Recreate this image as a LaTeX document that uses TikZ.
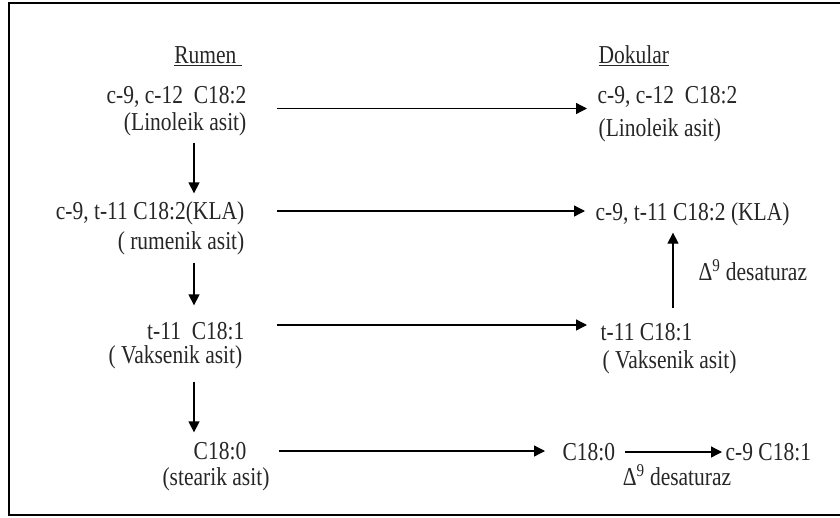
\documentclass[tikz,border=0pt]{standalone}
\usepackage{fontspec}
\setmainfont{Liberation Serif}
\usetikzlibrary{arrows.meta,calc}

\newcommand\tall[1]{\scalebox{1}[1.2]{#1}}

\begin{document}
\begin{tikzpicture}[x=1pt,y=-1pt,>={Triangle[length=11pt,width=11pt]},
                line width=1.3pt,
                lbl/.style={inner sep=0pt,text height=22pt,text depth=5pt,
                  text=black!85,font=\fontsize{21.5}{26}\selectfont}]
  \useasboundingbox (0,0) rectangle (840,517);
  \draw[line width=2.2pt] (845,3) -- (9,3) -- (9,515) -- (845,515);

  \coordinate (lx) at (194,0);
  \coordinate (rx) at (673,0);

  % Rumen side
  \node[lbl] (rumen) at (208,55) {\tall{\underline{Rumen\ }}};
  \node[lbl,anchor=east] (l1a) at (247,95) {\tall{c-9, c-12\ \ C18:2}};
  \node[lbl,anchor=east] (l1b) at (247,122) {\tall{(Linoleik asit)}};
  \node[lbl,anchor=east] (l2a) at (245,211) {\tall{c-9, t-11 C18:2(KLA)}};
  \node[lbl,anchor=east] (l2b) at (245,241) {\tall{( rumenik asit)}};
  \node[lbl,anchor=east] (l3a) at (245,331) {\tall{t-11\ \ C18:1}};
  \node[lbl,anchor=east] (l3b) at (243,355) {\tall{( Vaksenik asit)}};
  \node[lbl] (l4a) at (220,451) {\tall{C18:0}};
  \node[lbl] (l4b) at (216,477) {\tall{(stearik asit)}};

  % Dokular side
  \node[lbl,anchor=west] (dokular) at (598,55) {\tall{\underline{Dokular}}};
  \node[lbl,anchor=west] (r1a) at (597,95) {\tall{c-9, c-12\ \ C18:2}};
  \node[lbl,anchor=west] (r1b) at (598,128) {\tall{(Linoleik asit)}};
  \node[lbl,anchor=west] (r2) at (595,212) {\tall{c-9, t-11 C18:2 (KLA)}};
  \node[lbl,anchor=west] (r3a) at (600,332) {\tall{t-11 C18:1}};
  \node[lbl,anchor=west] (r3b) at (602,360) {\tall{( Vaksenik asit)}};
  \node[lbl,anchor=west] (r4a) at (562,452) {\tall{C18:0}};
  \node[lbl,anchor=west] (r4b) at (725,452) {\tall{c-9 C18:1}};
  \node[lbl,anchor=west] (d1) at (698,272) {\tall{Δ\textsuperscript{9} desaturaz}};
  \node[lbl] (d2) at (677,477) {\tall{Δ\textsuperscript{9} desaturaz}};

  \coordinate (m1) at ($(l1a.east)!.5!(l1b.east)$);
  \coordinate (m3) at ([yshift=6pt]l3a.east);

  \path[->]
  (m1) edge[shorten <=30pt,shorten >=10pt] (m1 -| r1a.west)
  (l2a.east) edge[shorten <=32pt,shorten >=10pt] (l2a.east -| r2.west)
  (m3) edge[shorten <=32pt,shorten >=13pt] (m3 -| r3a.west)
  (l4a.east) edge[shorten <=32pt,shorten >=17pt] (l4a.east -| r4a.west)
  (r4a.east) edge[shorten <=9pt,shorten >=3pt] (r4a.east -| r4b.west)
  (l1b.south -| lx) edge[shorten <=6.5pt,shorten >=3.5pt] (l2a.north -| lx)
  (l2b.south -| lx) edge[shorten <=7.5pt,shorten >=11.5pt] (l3a.north -| lx)
  (l3b.south -| lx) edge[shorten <=12.5pt,shorten >=4.5pt] (l4a.north -| lx)
  (r3a.north -| rx) edge[shorten <=9.5pt,shorten >=6.5pt] (r2.south -| rx)
  ;
\end{tikzpicture}
\end{document}
